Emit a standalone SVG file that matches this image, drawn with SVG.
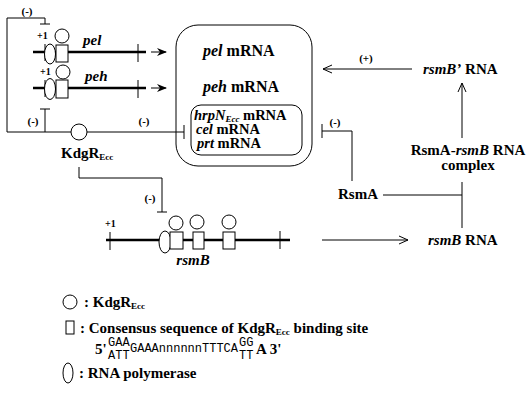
<svg xmlns="http://www.w3.org/2000/svg" width="529" height="408" viewBox="0 0 529 408" font-family="'Liberation Serif', 'DejaVu Serif', serif">
<style>
text{font-family:'Liberation Serif','DejaVu Serif',serif;font-weight:bold;fill:#000;font-size:15px}
.sm{font-size:11px}
.p1{font-size:10px}
.bx{font-size:16px}
.in{font-size:14.5px}
.it{font-style:italic}
.ln{fill:none;stroke:#000;stroke-width:1}
.gene{stroke:#000;stroke-width:2.5;fill:none}
.sh{fill:#fff;stroke:#000;stroke-width:1}
text.seq{font-family:'Liberation Mono','DejaVu Sans Mono',monospace;font-weight:normal;font-size:12px}
</style>
<defs>
<marker id="fa" markerWidth="10" markerHeight="8" refX="9" refY="4" orient="auto" markerUnits="userSpaceOnUse"><path d="M0,0 L10,4 L0,8 L3,4 Z" fill="#000"/></marker>
<marker id="oa" markerWidth="12" markerHeight="10" refX="10" refY="5" orient="auto" markerUnits="userSpaceOnUse"><path d="M1,1 L10,5 L1,9" fill="none" stroke="#000" stroke-width="1"/></marker>
</defs>
<rect width="529" height="408" fill="#fff"/>

<g id="connectors">
<path class="ln" d="M45,24 V18 H7 V132 H71"/>
<path class="ln" d="M40,24 H50"/>
<text class="sm" x="27" y="15" text-anchor="middle">(-)</text>
<path class="ln" d="M45,132 V109"/>
<path class="ln" d="M40,109 H50"/>
<text class="sm" x="33" y="125" text-anchor="middle">(-)</text>
<path class="ln" d="M87,132 H184"/>
<path class="ln" d="M184,125 V139"/>
<text class="sm" x="144" y="125" text-anchor="middle">(-)</text>
<path class="ln" d="M151,52 H166" marker-end="url(#fa)"/>
<path class="ln" d="M151,88 H166" marker-end="url(#fa)"/>
<path class="ln" d="M412,69 H323" marker-end="url(#oa)"/>
<text class="sm" x="366" y="62" text-anchor="middle">(+)</text>
<path class="ln" d="M462,138 V83" marker-end="url(#oa)"/>
<path class="ln" d="M352,181 V131 H322"/>
<path class="ln" d="M322,124 V138"/>
<text class="sm" x="335" y="126" text-anchor="middle">(-)</text>
<path class="ln" d="M383,195 H462"/>
<path class="ln" d="M462,182 V228"/>
<path class="ln" d="M322,240 H408" marker-end="url(#oa)"/>
<path class="ln" d="M79,167 V178 H162 V212"/>
<path class="ln" d="M157,212 H167"/>
<text class="sm" x="150" y="202" text-anchor="middle">(-)</text>
</g>

<g id="pel-gene">
<path class="gene" d="M33,52 H146"/>
<path class="ln" d="M45,44 V61 M138,44 V62"/>
<ellipse class="sh" cx="50" cy="54" rx="5.5" ry="10"/>
<rect class="sh" x="56" y="45" width="12" height="17"/>
<circle class="sh" cx="62" cy="36" r="7"/>
<text class="p1" x="37" y="39">+1</text>
<text class="it" x="83" y="45">pel</text>
</g>

<g id="peh-gene">
<path class="gene" d="M33,88 H146"/>
<path class="ln" d="M45,80 V97 M138,80 V98"/>
<ellipse class="sh" cx="50" cy="89" rx="5.5" ry="10.5"/>
<rect class="sh" x="56" y="80" width="12" height="18"/>
<circle class="sh" cx="63" cy="72" r="7"/>
<text class="p1" x="40" y="75">+1</text>
<text class="it" x="85" y="81">peh</text>
</g>

<g id="kdgr">
<circle class="sh" cx="79" cy="132" r="8"/>
<text x="61" y="158">KdgR<tspan font-size="9" dy="2">Ecc</tspan></text>
</g>

<g id="mrna-box">
<rect class="ln" x="176" y="25" width="136" height="141" rx="22"/>
<text class="bx" x="203" y="56"><tspan class="it">pel</tspan> mRNA</text>
<text class="bx" x="203" y="92"><tspan class="it">peh</tspan> mRNA</text>
<rect class="ln" x="191" y="105" width="111" height="50" rx="10"/>
<text class="in" x="194" y="120"><tspan class="it">hrpN</tspan><tspan class="it" font-size="9" dy="2">Ecc</tspan><tspan dy="-2"> mRNA</tspan></text>
<text class="in" x="196" y="134"><tspan class="it">cel</tspan> mRNA</text>
<text class="in" x="197" y="148"><tspan class="it">prt</tspan> mRNA</text>
</g>

<g id="rsmBprime-rna">
<text x="423" y="74"><tspan class="it">rsmB’</tspan> RNA</text>
</g>

<g id="complex">
<text x="468" y="155" text-anchor="middle">RsmA-<tspan class="it">rsmB</tspan> RNA</text>
<text x="468" y="170" text-anchor="middle">complex</text>
</g>

<g id="rsma">
<text x="338" y="199">RsmA</text>
</g>

<g id="rsmB-rna">
<text x="428" y="245"><tspan class="it">rsmB</tspan> RNA</text>
</g>

<g id="rsmB-gene">
<path class="gene" d="M106,240 H290"/>
<path class="ln" d="M110,232 V250 M280,231 V249"/>
<ellipse class="sh" cx="165" cy="242" rx="6" ry="11"/>
<rect class="sh" x="170" y="232" width="13" height="17"/>
<rect class="sh" x="193" y="232" width="11" height="17"/>
<rect class="sh" x="223" y="232" width="12" height="17"/>
<circle class="sh" cx="176" cy="223" r="7"/>
<circle class="sh" cx="197" cy="222" r="7"/>
<circle class="sh" cx="229" cy="222" r="7"/>
<text class="p1" x="105" y="227">+1</text>
<text class="it" x="193" y="265" text-anchor="middle">rsmB</text>
</g>

<g id="legend">
<circle class="sh" cx="70" cy="302" r="7"/>
<text x="84" y="307">:  KdgR<tspan font-size="9" dy="2">Ecc</tspan></text>
<rect class="sh" x="66" y="321" width="8" height="13"/>
<text x="80" y="333">:  Consensus sequence of KdgR<tspan font-size="9" dy="2">Ecc</tspan><tspan dy="-2"> binding site</tspan></text>
<text x="95" y="354">5'</text>
<text class="seq" x="108" y="346">GAA</text>
<text class="seq" x="108" y="359">ATT</text>
<text class="seq" x="130" y="352">GAAAnnnnnnTTTCA</text>
<text class="seq" x="239" y="346">GG</text>
<text class="seq" x="239" y="359">TT</text>
<text x="256" y="354">A 3'</text>
<ellipse class="sh" cx="68" cy="373" rx="5" ry="10"/>
<text x="79" y="378">: RNA polymerase</text>
</g>
</svg>
